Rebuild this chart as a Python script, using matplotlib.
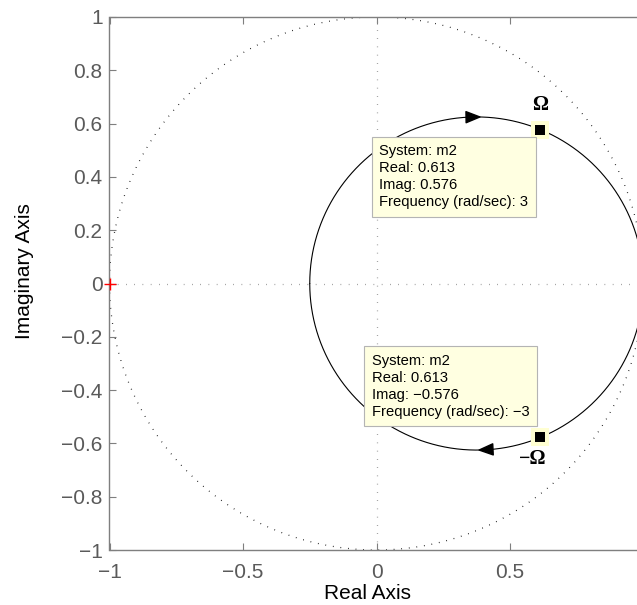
import numpy as np
import matplotlib
matplotlib.use("Agg")
import matplotlib.pyplot as plt

# ---- data ----
num = [1.0, -0.5]          # numerator of m2(s)
den = [1.0, 2.0]           # denominator of m2(s)
tip_real = 0.613
tip_imag = 0.576
tip_freq = 3
xticks = [-1, -0.5, 0, 0.5]
yticks = [-1, -0.8, -0.6, -0.4, -0.2, 0, 0.2, 0.4, 0.6, 0.8, 1]

plt.rcParams['font.family'] = ['Liberation Sans', 'DejaVu Sans']

def G(w):
    s = 1j * np.asarray(w)
    return np.polyval(num, s) / np.polyval(den, s)

w = np.logspace(-3, 4, 3000)
Gp = G(w)
Gn = G(-w)

W, H = 637, 605
fig = plt.figure(figsize=(W/100, H/100), dpi=100)
ax = fig.add_axes([109.5/W, 55/H, 534/W, 533/H])
ax.set_xlim(-1, 1)
ax.set_ylim(-1, 1)

# unit circle and zero lines
th = np.linspace(0, 2*np.pi, 400)
ax.plot(np.cos(th), np.sin(th), color='k', lw=0.9, ls=(0, (0.6, 5.5)))
ax.axhline(0, color='#888888', lw=0.9, ls=(0, (0.6, 6)))
ax.axvline(0, color='#888888', lw=0.9, ls=(0, (0.6, 6)))

# Nyquist curve
ax.plot(Gp.real, Gp.imag, color='k', lw=0.8)
ax.plot(Gn.real, Gn.imag, color='k', lw=0.8)

# arrows
for w0, w1 in [(1.9, 2.04), (-2.17, -2.03)]:
    p0, p1 = G(w0), G(w1)
    ax.annotate('', xy=(p1.real, p1.imag), xytext=(p0.real, p0.imag),
                arrowprops=dict(facecolor='k', edgecolor='k', width=0.01,
                                headwidth=8, headlength=10, shrink=0))

# critical point
ax.plot([-1], [0], marker='+', color='red', ms=9, mew=1.0, clip_on=False, zorder=5)

# data tip markers
for sgn in (1, -1):
    ax.plot([tip_real], [sgn*tip_imag], marker='s', ms=13.5, mfc='#ffffd2', mew=0, zorder=6)
    ax.plot([tip_real], [sgn*tip_imag], marker='s', ms=7.7, mfc='k', mew=0, zorder=6)

ax.text(tip_real - 0.002, 0.669, '\u03a9', ha='center', va='center', fontsize=14.5,
        family='Liberation Serif', fontweight='bold')
ax.text(0.584, -0.660, '\u2212\u03a9', ha='center', va='center', fontsize=14.5,
        family='Liberation Serif', fontweight='bold')

bbox = dict(boxstyle='square,pad=0.5', fc='#ffffe1', ec='#b4b4b4', lw=0.8)
ax.text(0.011, 0.523,
        f"System: m2\nReal: {tip_real:.3f}\nImag: {tip_imag:.3f}\nFrequency (rad/sec): {tip_freq}",
        ha='left', va='top', fontsize=10.6, linespacing=1.28, bbox=bbox, zorder=7)
ax.text(-0.018, -0.263,
        f"System: m2\nReal: {tip_real:.3f}\nImag: \u2212{tip_imag:.3f}\nFrequency (rad/sec): \u2212{tip_freq}",
        ha='left', va='top', fontsize=10.6, linespacing=1.28, bbox=bbox, zorder=7)

# axes styling
ax.set_xticks(xticks)
ax.set_yticks(yticks)
ax.set_xticklabels(['\u22121', '\u22120.5', '0', '0.5'])
ax.set_yticklabels([('\u2212' + f'{abs(v):g}') if v < 0 else f'{v:g}' for v in yticks])
ax.tick_params(direction='in', top=True, right=True, length=5, width=0.8,
               colors='#7f7f7f', labelcolor='#5a5a5a', labelsize=15)
ax.tick_params(axis='y', pad=5)
ax.tick_params(axis='x', pad=9)
for sp in ax.spines.values():
    sp.set_color('#7f7f7f')
    sp.set_linewidth(1.0)

fig.text(368/W, 1 - 599/H, 'Real Axis', ha='center', va='baseline', fontsize=15)
fig.text(25/W, 1 - 271.5/H, 'Imaginary Axis', ha='center', va='center',
         rotation=90, fontsize=15)

fig.savefig('out.png', dpi=100)
